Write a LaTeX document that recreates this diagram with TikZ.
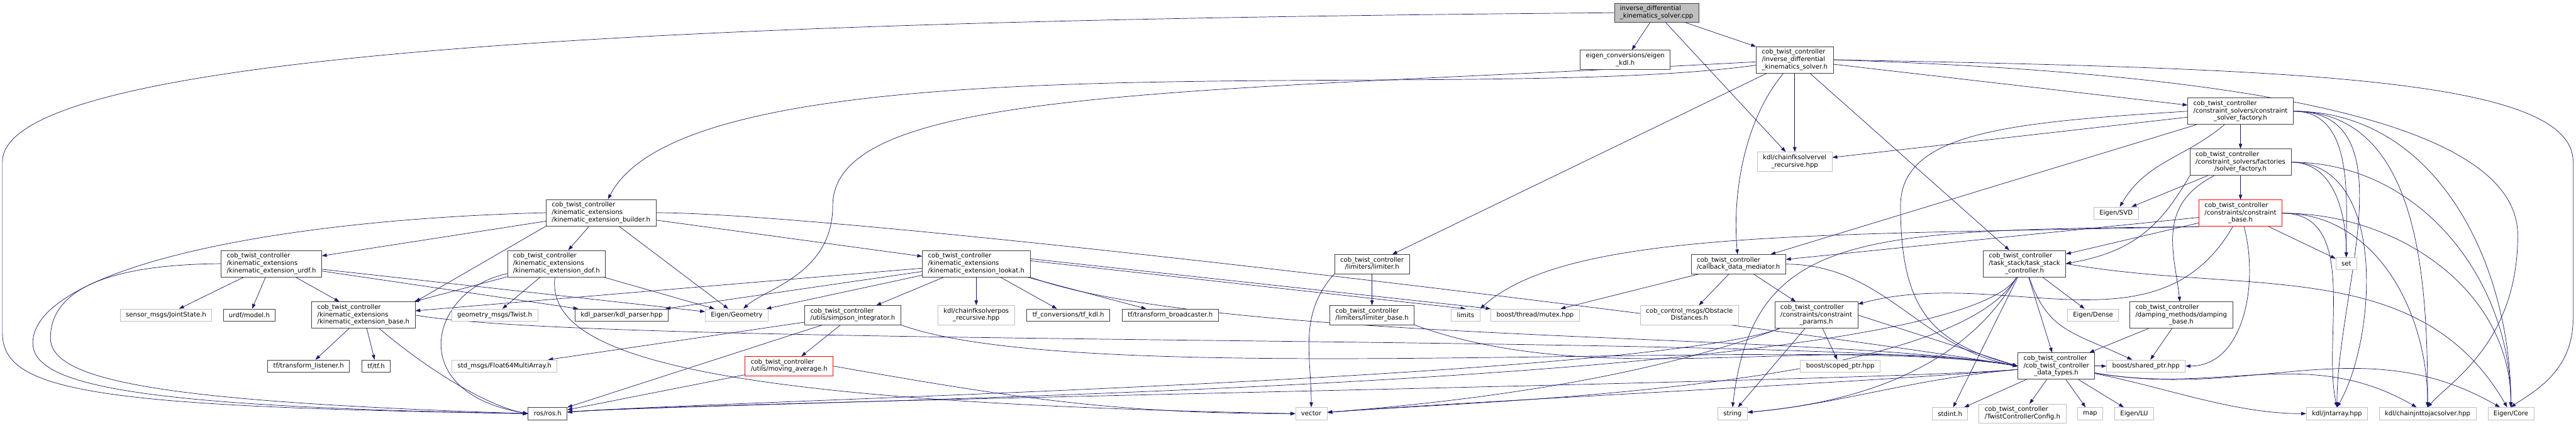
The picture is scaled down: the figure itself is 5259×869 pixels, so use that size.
\documentclass[tikz,border=0pt]{standalone}
\usepackage{fontspec}
\newfontfamily\dvs{DejaVu Sans}
\usetikzlibrary{arrows.meta}
\pgfdeclarelayer{background}
\pgfsetlayers{background,main}
\definecolor{EdgeBlue}{RGB}{25,25,112}
\definecolor{BoxGray}{RGB}{191,191,191}
\definecolor{BoxDark}{RGB}{64,64,64}
% all lines but the last are set flush left, the last one centred
\newcommand\flab[2]{\begin{tabular}{@{}l@{}}#1\\\multicolumn{1}{@{}c@{}}{#2}\end{tabular}}
\tikzset{
  file/.style={draw=BoxDark,fill=white,line width=1pt,inner xsep=11.5pt,
    inner ysep=4.5pt,minimum height=25pt,font=\dvs\fontsize{13}{15}\selectfont},
  extfile/.style={file,draw=BoxGray},
  cutfile/.style={file,draw=red},
  mainfile/.style={file,fill=BoxGray},
  dep/.style={EdgeBlue,line width=0.9pt,-{Triangle[length=10pt,width=7pt]}}
}
\begin{document}
\begin{tikzpicture}[x=1pt,y=-1pt]
\begin{pgfonlayer}{background}
  \fill[white] (0,0) rectangle (5259,869);
\end{pgfonlayer}
\useasboundingbox (0,0) rectangle (5259,869);

% top of the graph
\node[mainfile] (root) at (3382,26) {\flab{inverse\_differential}{\_kinematics\_solver.cpp}};
\node[file] (eigenkdl) at (3318,122) {\flab{eigen\_conversions/eigen}{\_kdl.h}};
\node[file] (idksh) at (3664,122) {\flab{cob\_twist\_controller\\/inverse\_differential}{\_kinematics\_solver.h}};
\node[extfile] (fkvel) at (3664,330) {\flab{kdl/chainfksolvervel}{\_recursive.hpp}};

% kinematic extensions
\node[file] (builder) at (1227,434) {\flab{cob\_twist\_controller\\/kinematic\_extensions}{/kinematic\_extension\_builder.h}};
\node[file] (urdf) at (554,538) {\flab{cob\_twist\_controller\\/kinematic\_extensions}{/kinematic\_extension\_urdf.h}};
\node[file] (dof) at (1136,538) {\flab{cob\_twist\_controller\\/kinematic\_extensions}{/kinematic\_extension\_dof.h}};
\node[file] (lookat) at (1993,538) {\flab{cob\_twist\_controller\\/kinematic\_extensions}{/kinematic\_extension\_lookat.h}};
\node[file] (extbase) at (742,643) {\flab{cob\_twist\_controller\\/kinematic\_extensions}{/kinematic\_extension\_base.h}};
\node[extfile] (jointstate) at (339,643) {sensor\_msgs/JointState.h};
\node[file] (urdfmodel) at (509,643) {urdf/model.h};
\node[extfile] (twistmsg) at (1010,643) {geometry\_msgs/Twist.h};
\node[file] (kdlparser) at (1269,643) {kdl\_parser/kdl\_parser.hpp};
\node[extfile] (geometry) at (1504,643) {Eigen/Geometry};
\node[file] (simpson) at (1741,643) {\flab{cob\_twist\_controller}{/utils/simpson\_integrator.h}};
\node[extfile] (fkpos) at (1993,643) {\flab{kdl/chainfksolverpos}{\_recursive.hpp}};
\node[file] (tfkdl) at (2181,643) {tf\_conversions/tf\_kdl.h};
\node[file] (tfbcast) at (2389,643) {tf/transform\_broadcaster.h};
\node[file] (tflisten) at (630,747) {tf/transform\_listener.h};
\node[file] (tfh) at (768,747) {tf/tf.h};
\node[extfile] (float64) at (1030,747) {std\_msgs/Float64MultiArray.h};
\node[cutfile] (movavg) at (1611,747) {\flab{cob\_twist\_controller}{/utils/moving\_average.h}};

% limiters, mediator, params
\node[file] (limiter) at (2801,539) {\flab{cob\_twist\_controller}{/limiters/limiter.h}};
\node[file] (limbase) at (2801,643) {\flab{cob\_twist\_controller}{/limiters/limiter\_base.h}};
\node[extfile] (limits) at (2992,643) {limits};
\node[extfile] (mutex) at (3134,643) {boost/thread/mutex.hpp};
\node[extfile] (obstacle) at (3449,643) {\flab{cob\_control\_msgs/Obstacle}{Distances.h}};
\node[file] (cbdm) at (3549,539) {\flab{cob\_twist\_controller}{/callback\_data\_mediator.h}};
\node[file] (cparams) at (3708,643) {\flab{cob\_twist\_controller\\/constraints/constraint}{\_params.h}};
\node[extfile] (scoped) at (3757,747) {boost/scoped\_ptr.hpp};

% solvers and constraints
\node[file] (csfactory) at (4574,227) {\flab{cob\_twist\_controller\\/constraint\_solvers/constraint}{\_solver\_factory.h}};
\node[file] (sfactory) at (4574,331) {\flab{cob\_twist\_controller\\/constraint\_solvers/factories}{/solver\_factory.h}};
\node[cutfile] (cbase) at (4574,435) {\flab{cob\_twist\_controller\\/constraints/constraint}{\_base.h}};
\node[extfile] (svd) at (4320,435) {Eigen/SVD};
\node[file] (taskstack) at (4133,538) {\flab{cob\_twist\_controller\\/task\_stack/task\_stack}{\_controller.h}};
\node[extfile] (set) at (4790,538) {set};
\node[extfile] (dense) at (4273,643) {Eigen/Dense};
\node[file] (damping) at (4453,643) {\flab{cob\_twist\_controller\\/damping\_methods/damping}{\_base.h}};
\node[file] (datatypes) at (4198,747) {\flab{cob\_twist\_controller\\/cob\_twist\_controller}{\_data\_types.h}};
\node[extfile] (sharedptr) at (4381,747) {boost/shared\_ptr.hpp};

% bottom row
\node[file] (ros) at (1118,844) {ros/ros.h};
\node[extfile] (vector) at (2677,844) {vector};
\node[extfile] (string) at (3537,844) {string};
\node[extfile] (stdint) at (3981,844) {stdint.h};
\node[extfile] (twistcfg) at (4129,844) {\flab{cob\_twist\_controller}{/TwistControllerConfig.h}};
\node[extfile] (map) at (4267,844) {map};
\node[extfile] (eigenlu) at (4357,844) {Eigen/LU};
\node[extfile] (jntarray) at (4771,844) {kdl/jntarray.hpp};
\node[extfile] (jnttojac) at (4956,844) {kdl/chainjnttojacsolver.hpp};
\node[extfile] (eigencore) at (5126,844) {Eigen/Core};

\begin{pgfonlayer}{background}
% the source file
\foreach \t in {eigenkdl,idksh,fkvel}
  \draw[dep] (root) -- (\t);
\draw[dep] (root.west) .. controls (1600,40) and (5,90) .. (5,330) -- (5,680)
  .. controls (5,800) and (200,830) .. (ros.west);

% solver header
\foreach \t in {limiter,fkvel,taskstack,csfactory}
  \draw[dep] (idksh) -- (\t);
\draw[dep] (idksh) .. controls (2989,216) and (1420,60) .. (builder);
\draw[dep] (idksh) .. controls (2400,190) and (1700,180) .. (1700,420)
  .. controls (1700,560) and (1560,590) .. (geometry);
\draw[dep] (idksh) .. controls (3561,245) and (3536,396) .. (cbdm);
\draw[dep] (idksh.east) .. controls (4700,140) and (5253,160) .. (5253,330) -- (5253,650)
  .. controls (5253,760) and (5170,800) .. (eigencore.north);
\draw[dep] (idksh.east) .. controls (4600,150) and (5140,250) .. (5140,480)
  .. controls (5140,700) and (5000,780) .. (jnttojac.north);

% constraint solver factory
\foreach \t in {sfactory,fkvel,cbdm}
  \draw[dep] (csfactory) -- (\t);
\draw[dep] (csfactory) .. controls (4458,324) and (4382,329) .. (svd);
\draw[dep] (csfactory.east) .. controls (4806,227) and (4790,402) .. (set.north);
\draw[dep] (csfactory.east) .. controls (4920,227) and (4771,594) .. (jntarray.north);
\draw[dep] (csfactory.east) .. controls (4941,227) and (4956,573) .. (jnttojac.north);
\draw[dep] (csfactory.east) .. controls (4975,227) and (5126,539) .. (eigencore.north);
\draw[dep] (csfactory.west) .. controls (4100,250) and (3880,270) .. (3880,420)
  .. controls (3880,640) and (3950,700) .. (datatypes.west);

% solver factory
\foreach \t in {cbase,svd}
  \draw[dep] (sfactory) -- (\t);
\draw[dep] (sfactory.east) .. controls (4766,331) and (4790,438) .. (set.north);
\draw[dep] (sfactory.east) .. controls (4876,331) and (4851,693) .. (jntarray.north);
\draw[dep] (sfactory.east) .. controls (4940,331) and (5126,570) .. (eigencore.north);
\draw[dep] (sfactory.south west) .. controls (4406,471) and (4346,515) .. (taskstack.east);
\draw[dep] (sfactory) .. controls (4400,420) and (4440,520) .. (damping);

% constraint base
\foreach \t in {cbdm,taskstack,set}
  \draw[dep] (cbase) -- (\t);
\draw[dep] (cbase) .. controls (4405,728) and (4087,542) .. (cparams);
\draw[dep] (cbase) .. controls (4612,579) and (4581,747) .. (sharedptr);
\draw[dep] (cbase.east) .. controls (4819,435) and (4740,690) .. (jntarray.north);
\draw[dep] (cbase.east) .. controls (4852,435) and (4956,638) .. (jnttojac.north);
\draw[dep] (cbase.east) .. controls (4897,435) and (5126,593) .. (eigencore.north);
\draw[dep] (cbase.south west) .. controls (3800,470) and (3580,470) .. (string.north);
\draw[dep] (cbase.south west) .. controls (3700,480) and (3200,470) .. (limits.north east);

% callback data mediator
\foreach \t in {obstacle,cparams,mutex}
  \draw[dep] (cbdm) -- (\t);
\draw[dep] (cbdm.east) .. controls (3847,539) and (3922,712) .. (datatypes.west);

% constraint params
\foreach \t in {scoped,string}
  \draw[dep] (cparams) -- (\t);
\draw[dep] (cparams.east) -- (datatypes.west);
\draw[dep] (cparams) .. controls (3352,773) and (3007,818) .. (vector);
\draw[dep] (cparams) .. controls (3352,773) and (1457,818) .. (ros);

% task stack
\foreach \t in {dense,datatypes,stdint}
  \draw[dep] (taskstack) -- (\t);
\draw[dep] (taskstack) .. controls (4180,675) and (4229,677) .. (sharedptr);
\draw[dep] (taskstack.east) .. controls (4586,603) and (4939,520) .. (eigencore);
\draw[dep] (taskstack) .. controls (3983,798) and (1457,818) .. (ros);
\draw[dep] (taskstack) .. controls (3983,798) and (3007,818) .. (vector);
\draw[dep] (taskstack) .. controls (4008,755) and (3787,822) .. (string);

% damping
\foreach \t in {datatypes,sharedptr}
  \draw[dep] (damping) -- (\t);

% data types
\foreach \t in {map,stdint,twistcfg,eigenlu,sharedptr}
  \draw[dep] (datatypes) -- (\t);
\draw[dep] (datatypes) .. controls (3902,773) and (3754,825) .. (string);
\draw[dep] (datatypes) .. controls (3820,780) and (3007,818) .. (vector);
\draw[dep] (datatypes) .. controls (3820,780) and (1457,818) .. (ros);
\draw[dep] (datatypes) .. controls (4420,790) and (4560,844) .. (jntarray);
\draw[dep] (datatypes) .. controls (4531,806) and (4712,703) .. (jnttojac);
\draw[dep] (datatypes) .. controls (4595,817) and (4825,670) .. (eigencore);

% builder
\foreach \t in {urdf,dof,lookat,geometry}
  \draw[dep] (builder) -- (\t);
\draw[dep] (builder.south west) -- (extbase.north east);
\draw[dep] (builder.east) .. controls (1741,434) and (3725,678) .. (datatypes.west);
\draw[dep] (builder.west) .. controls (500,450) and (67,560) .. (67,700)
  .. controls (67,790) and (300,830) .. (ros.west);

% urdf extension
\foreach \t in {jointstate,urdfmodel,extbase,kdlparser,geometry}
  \draw[dep] (urdf) -- (\t);
\draw[dep] (urdf.west) .. controls (200,540) and (103,600) .. (103,690)
  .. controls (103,780) and (350,820) .. (ros.west);

% dof extension
\foreach \t in {extbase,twistmsg,geometry}
  \draw[dep] (dof) -- (\t);
\draw[dep] (dof) .. controls (880,590) and (820,800) .. (ros.west);
\draw[dep] (dof) .. controls (1115,720) and (1400,820) .. (vector.west);

% base extension
\foreach \t in {tflisten,tfh}
  \draw[dep] (extbase) -- (\t);
\draw[dep] (extbase) .. controls (880,760) and (1000,830) .. (ros.west);
\draw[dep] (extbase.east) .. controls (1242,712) and (3725,678) .. (datatypes.west);

% lookat extension
\foreach \t in {extbase,simpson,fkpos,tfkdl,tfbcast,kdlparser,geometry}
  \draw[dep] (lookat) -- (\t);
\draw[dep] ([yshift=6pt]lookat.east) -- (limits.north);
\draw[dep] ([yshift=10pt]lookat.east) -- (mutex.north west);
\draw[dep] (lookat.south east) .. controls (2480,702) and (3725,678) .. (datatypes.west);

% utils
\foreach \t in {movavg,float64,ros}
  \draw[dep] (simpson) -- (\t);
\draw[dep] (simpson.south east) .. controls (2215,800) and (3725,678) .. (datatypes.west);
\draw[dep] (movavg) -- (ros);
\draw[dep] (movavg.east) .. controls (2065,811) and (2275,844) .. (vector.west);

% limiters
\draw[dep] (limiter) -- (limbase);
\draw[dep] (limiter.south west) .. controls (2650,640) and (2677,727) .. (vector.north);
\draw[dep] (limbase.south east) .. controls (3264,800) and (3725,678) .. (datatypes.west);
\end{pgfonlayer}
\end{tikzpicture}
\end{document}
